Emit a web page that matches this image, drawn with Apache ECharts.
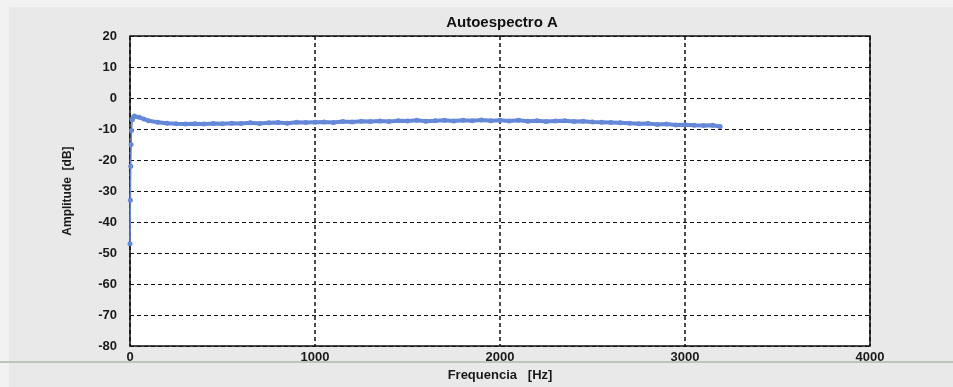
<!DOCTYPE html>
<html>
<head>
<meta charset="utf-8">
<script src="https://cdn.jsdelivr.net/npm/echarts@6/dist/echarts.min.js"></script>
<style>
    html, body { margin: 0; padding: 0; background: #f2f2f2; }
    #chart { width: 953px; height: 387px; }
</style>
</head>
<body>
<div id="chart"></div>
<script>
// Autoespectro A - amplitude [dB] vs frequencia [Hz]
// rise at the very start of the spectrum (drawn thin)
var riseFreqs = [0, 2, 4, 6, 8, 12];
var riseAmps = [-47, -33, -22, -15, -10.5, -7];
// the flat part of the spectrum (drawn thick)
var freqs = [12, 20, 25, 50, 75, 100, 150, 200, 250, 300, 350, 400, 450, 500,
    550, 600, 650, 700, 750, 800, 850, 900, 950, 1000, 1050, 1100, 1150, 1200, 1250, 1300,
    1350, 1400, 1450, 1500, 1550, 1600, 1650, 1700, 1750, 1800, 1850, 1900, 1950, 2000,
    2050, 2100, 2150, 2200, 2250, 2300, 2350, 2400, 2450, 2500, 2550, 2600, 2650, 2700,
    2750, 2800, 2850, 2900, 2950, 3000, 3050, 3100, 3150, 3190];
var amps = [-7, -6, -5.8, -6.2, -6.8, -7.3, -7.8, -8.1, -8.3, -8.4,
    -8.3, -8.4, -8.2, -8.3, -8.1, -8.2, -8.0, -8.2, -8.0, -7.9, -8.1, -7.8, -7.9, -7.8,
    -7.7, -7.9, -7.6, -7.7, -7.5, -7.6, -7.4, -7.6, -7.3, -7.4, -7.2, -7.5, -7.3, -7.2,
    -7.4, -7.2, -7.3, -7.1, -7.3, -7.2, -7.4, -7.2, -7.5, -7.3, -7.6, -7.4, -7.3, -7.6,
    -7.5, -7.7, -7.8, -7.9, -8.0, -8.1, -8.3, -8.2, -8.5, -8.4, -8.7, -8.6, -8.8, -8.9,
    -8.8, -9.2];
var xTicks = [0, 1000, 2000, 3000, 4000];
var yTicks = [-80, -70, -60, -50, -40, -30, -20, -10, 0, 10, 20];

function pairs(xs, ys) {
    var out = [];
    for (var i = 0; i < xs.length; i++) {
        out.push([xs[i], ys[i]]);
    }
    return out;
}

var myChart = echarts.init(document.getElementById('chart'));

var labelFont = {
    color: '#1a1a1a',
    fontFamily: 'Liberation Sans',
    fontWeight: 'bold',
    fontSize: 13
};

option = {
    backgroundColor: '#f2f2f2',
    animation: false,
    title: {
        text: 'Autoespectro A',
        left: 497,
        top: 10,
        textAlign: 'center',
        textStyle: {
            color: '#111',
            fontFamily: 'Liberation Sans',
            fontWeight: 'bold',
            fontSize: 15
        }
    },
    graphic: [
        {
            type: 'rect',
            z: -10,
            silent: true,
            shape: { x: 9, y: 7, width: 944, height: 380 },
            style: { fill: '#e9e9e9' }
        },
        {
            type: 'line',
            z: -9,
            silent: true,
            shape: { x1: 0, y1: 362, x2: 953, y2: 362 },
            style: { stroke: '#bcc6b6', lineWidth: 2 }
        }
    ],
    grid: {
        left: 130,
        right: 83,
        top: 36,
        bottom: 37,
        show: true,
        backgroundColor: '#ffffff',
        borderColor: '#111',
        borderWidth: 1.5
    },
    xAxis: {
        type: 'value',
        min: xTicks[0],
        max: xTicks[xTicks.length - 1],
        interval: 1000,
        name: 'Frequencia   [Hz]',
        nameLocation: 'middle',
        nameGap: 21,
        nameTextStyle: labelFont,
        axisLine: { show: false },
        axisTick: { show: false },
        axisLabel: Object.assign({
            margin: 5,
            formatter: function (v) { return String(v); }
        }, labelFont),
        splitLine: {
            show: true,
            lineStyle: { color: '#111', type: [4, 3], width: 1.5 }
        }
    },
    yAxis: {
        type: 'value',
        min: yTicks[0],
        max: yTicks[yTicks.length - 1],
        interval: 10,
        name: 'Amplitude  [dB]',
        nameLocation: 'middle',
        nameGap: 56,
        nameTextStyle: Object.assign({}, labelFont, { fontSize: 12 }),
        axisLine: { show: false },
        axisTick: { show: false },
        axisLabel: Object.assign({ margin: 13 }, labelFont),
        splitLine: {
            show: true,
            lineStyle: { color: '#111', type: [4, 3], width: 1 }
        }
    },
    series: [
        {
            name: 'rise',
            type: 'line',
            data: pairs(riseFreqs, riseAmps),
            symbol: 'circle',
            symbolSize: 5,
            showAllSymbol: true,
            itemStyle: { color: '#6688d8' },
            lineStyle: { color: '#6688d8', width: 1.5 },
            z: 3
        },
        {
            name: 'Autoespectro A',
            type: 'line',
            data: pairs(freqs, amps),
            symbol: 'circle',
            symbolSize: 5,
            showAllSymbol: true,
            itemStyle: { color: '#6688d8' },
            lineStyle: { color: '#6688d8', width: 4 },
            z: 2
        }
    ]
};

myChart.setOption(option);
</script>
</body>
</html>
